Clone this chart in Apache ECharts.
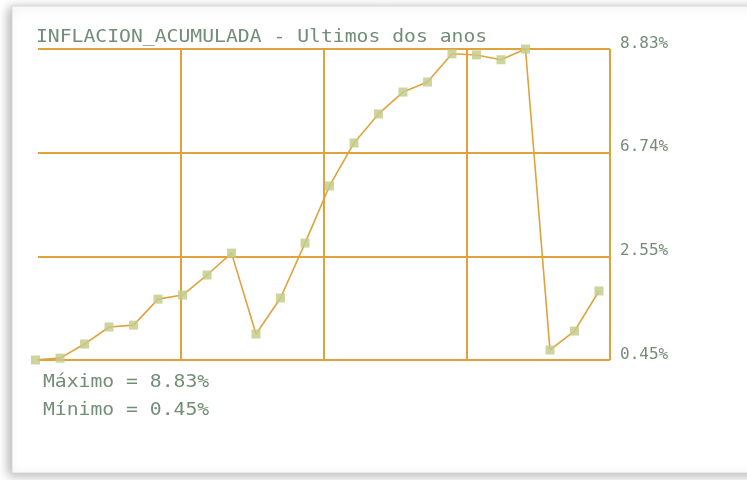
<!DOCTYPE html>
<html>
<head>
<meta charset="utf-8">
<script src="https://cdn.jsdelivr.net/npm/echarts@6/dist/echarts.min.js"></script>
<style>
html,body{margin:0;padding:0;background:#fff;}
#c{width:747px;height:480px;}
</style>
</head>
<body>
<div id="c"></div>
<script>
// Data
var titleText = 'INFLACION_ACUMULADA - Ultimos dos anos';
var inflation = [0.45, 0.50, 0.88, 1.34, 1.39, 2.09, 2.20, 2.74, 3.33, 1.15, 2.12, 3.60,
                 5.14, 6.30, 7.08, 7.67, 7.94, 8.70, 8.67, 8.54, 8.83, 0.72, 1.23, 2.31];
var tickLabels = ['0.45%', '2.55%', '6.74%', '8.83%'];
var summaryLines = ['Máximo = 8.83%', 'Mínimo = 0.45%'];
var yMin = 0.45, yMax = 8.83;

var lineColor = '#E0A23A';
var textColor = '#728E76';
var markerColor = 'rgba(196,204,140,0.85)';
var monoFont = '"DejaVu Sans Mono", monospace';

var chart = echarts.init(document.getElementById('c'), null, {renderer: 'canvas'});

var seriesData = inflation.map(function (v, i) { return [i, v]; });

chart.setOption({
  animation: false,
  backgroundColor: '#ffffff',
  grid: {left: 38, right: 137, top: 49, bottom: 120, containLabel: false},
  xAxis: [
    {type: 'value', min: 0.1, max: 23.45, show: false},
    {type: 'value', min: 0, max: 4, interval: 1, show: true, position: 'bottom',
     axisLine: {show: false}, axisTick: {show: false}, axisLabel: {show: false},
     splitLine: {show: true, showMinLine: false, lineStyle: {color: lineColor, width: 2}}}
  ],
  yAxis: [
    {type: 'value', min: 0, max: 3, interval: 1, position: 'right',
     axisLine: {show: false}, axisTick: {show: false},
     splitLine: {show: true, lineStyle: {color: lineColor, width: 2}},
     axisLabel: {show: true, margin: 10, color: textColor, fontFamily: monoFont, fontSize: 16,
                 verticalAlign: 'bottom', lineHeight: 11,
                 formatter: function (v) { return tickLabels[Math.round(v)] || ''; }}},
    {type: 'value', min: yMin, max: yMax, show: false}
  ],
  graphic: [
    {type: 'rect', z: -100, silent: true,
     shape: {x: 12, y: 6, width: 760, height: 467},
     style: {fill: '#ffffff', stroke: '#d8d8d8', lineWidth: 1,
             shadowBlur: 10, shadowColor: 'rgba(0,0,0,0.3)', shadowOffsetX: -3, shadowOffsetY: 2}},
    {type: 'text', x: 36, y: 38, scaleX: 1.16, z: 10,
     style: {text: titleText, font: '17px ' + monoFont, fill: textColor, textVerticalAlign: 'middle'}},
    {type: 'text', x: 43, y: 383, scaleX: 1.16, z: 10,
     style: {text: summaryLines[0], font: '17px ' + monoFont, fill: textColor, textVerticalAlign: 'middle'}},
    {type: 'text', x: 43, y: 411, scaleX: 1.16, z: 10,
     style: {text: summaryLines[1], font: '17px ' + monoFont, fill: textColor, textVerticalAlign: 'middle'}}
  ],
  series: [{
    type: 'line',
    xAxisIndex: 0,
    yAxisIndex: 1,
    data: seriesData,
    clip: false,
    symbol: 'rect',
    symbolSize: 9,
    showAllSymbol: true,
    lineStyle: {color: lineColor, width: 1.6},
    itemStyle: {color: markerColor, borderWidth: 0},
    z: 5
  }]
});
</script>
</body>
</html>
